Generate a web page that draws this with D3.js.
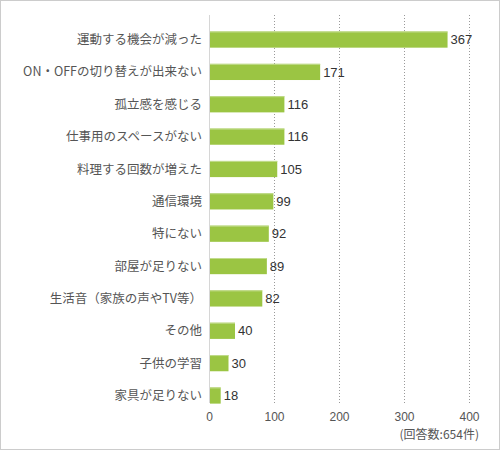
<!DOCTYPE html>
<html>
<head>
<meta charset="utf-8">
<script src="https://cdn.jsdelivr.net/npm/d3@7"></script>
<style>
  body { margin: 0; background: #fff; }
  svg { display: block; font-family: "Liberation Sans", Arial, "Noto Sans CJK JP", sans-serif; }
  .cat { font-family: "Noto Sans CJK JP", sans-serif; }
</style>
</head>
<body>
<div id="chart"></div>
<script>
// Reasons (survey answers) and counts
const categories = [
    '運動する機会が減った',
    'ON・OFFの切り替えが出来ない',
    '孤立感を感じる',
    '仕事用のスペースがない',
    '料理する回数が増えた',
    '通信環境',
    '特にない',
    '部屋が足りない',
    '生活音（家族の声やTV等）',
    'その他',
    '子供の学習',
    '家具が足りない'
];
const counts = [367, 171, 116, 116, 105, 99, 92, 89, 82, 40, 30, 18];
const xTicks = [0, 100, 200, 300, 400];
const note = '(回答数:654件)';

const W = 500, H = 450;
const svg = d3.select('#chart').append('svg')
    .attr('width', W)
    .attr('height', H);

// Outer frame
svg.append('rect')
    .attr('x', 0.5).attr('y', 0.5)
    .attr('width', W - 1).attr('height', H - 1)
    .attr('fill', '#fff')
    .attr('stroke', '#cccccc');

const x = d3.scaleLinear().domain([0, 400]).range([209, 469]);
const y = d3.scaleBand()
    .domain(categories)
    .range([15.3, 419.8])
    .padding(0.5);

const gridTop = 15, gridBottom = 403;

// Dotted grid lines
svg.selectAll('.grid')
    .data(xTicks.filter(d => d > 0))
    .enter()
    .append('line')
    .attr('class', 'grid')
    .attr('x1', d => Math.round(x(d)) + 0.5)
    .attr('x2', d => Math.round(x(d)) + 0.5)
    .attr('y1', gridTop)
    .attr('y2', gridBottom)
    .attr('stroke', '#999')
    .attr('stroke-dasharray', '1,2');

// Axis baseline
svg.append('line')
    .attr('x1', x(0) + 0.5).attr('x2', x(0) + 0.5)
    .attr('y1', gridTop).attr('y2', gridBottom)
    .attr('stroke', '#d6d6d6');

// Bars
svg.selectAll('.bar')
    .data(categories)
    .enter()
    .append('rect')
    .attr('class', 'bar')
    .attr('x', x(0) + 1)
    .attr('y', d => y(d))
    .attr('width', (d, i) => x(counts[i]) - x(0) - 1)
    .attr('height', y.bandwidth())
    .attr('fill', '#9bc543');

// Light top edge of bars
svg.selectAll('.bar-edge')
    .data(categories)
    .enter()
    .append('line')
    .attr('x1', x(0) + 1)
    .attr('x2', (d, i) => x(counts[i]))
    .attr('y1', d => y(d) + 0.5)
    .attr('y2', d => y(d) + 0.5)
    .attr('stroke', '#c2dc8e');

// Value labels
svg.selectAll('.val')
    .data(categories)
    .enter()
    .append('text')
    .attr('class', 'val')
    .attr('x', (d, i) => x(counts[i]) + 3)
    .attr('y', d => y(d) + y.bandwidth() / 2)
    .attr('dy', '0.36em')
    .attr('font-size', 13)
    .attr('fill', '#333')
    .text((d, i) => counts[i]);

// Category labels
svg.selectAll('.cat')
    .data(categories)
    .enter()
    .append('text')
    .attr('class', 'cat')
    .attr('x', 202)
    .attr('y', d => y(d) + y.bandwidth() / 2)
    .attr('dy', '0.36em')
    .attr('text-anchor', 'end')
    .attr('font-size', 12.5)
    .attr('fill', '#555')
    .text(d => d);

// X axis tick labels
const axis = d3.axisBottom(x).tickValues(xTicks).tickSize(0).tickPadding(0);
const ga = svg.append('g')
    .attr('transform', `translate(0,${412})`)
    .call(axis);
ga.select('.domain').remove();
ga.selectAll('text')
    .attr('font-size', 12)
    .attr('font-family', '"Liberation Sans", Arial, sans-serif')
    .attr('fill', '#555');

// Respondent note
svg.append('text')
    .attr('x', 479)
    .attr('y', 439)
    .attr('text-anchor', 'end')
    .attr('font-size', 12)
    .attr('fill', '#555')
    .attr('font-family', '"Noto Sans CJK JP", sans-serif')
    .text(note);
</script>
</body>
</html>
